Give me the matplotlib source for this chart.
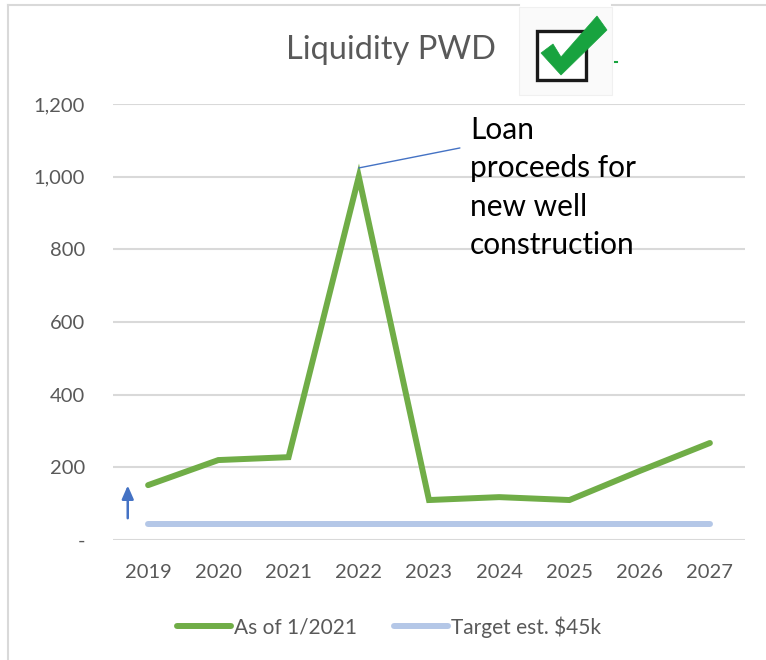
import matplotlib
matplotlib.use('Agg')
import matplotlib.pyplot as plt
from matplotlib.lines import Line2D
from matplotlib.patches import Polygon, Rectangle
from matplotlib.ticker import FuncFormatter
from matplotlib.transforms import Affine2D

# data
years = ["2019", "2020", "2021", "2022", "2023", "2024", "2025", "2026", "2027"]
liquidity = [151, 220, 228, 1000, 110, 118, 110, 190, 267]
target = [45, 45, 45, 45, 45, 45, 45, 45, 45]

GREEN = "#70AD47"
LIGHT_BLUE = "#B4C7E7"
BLUE = "#4472C4"
GRAY_TXT = "#595959"
GRID = "#D9D9D9"

plt.rcParams['font.family'] = ['Lato', 'DejaVu Sans']

W, H = 766, 660
fig = plt.figure(figsize=(W / 100, H / 100), dpi=100)
ax = fig.add_axes([113 / W, (H - 540) / H, 632 / W, 436 / H])

x = list(range(len(years)))
ax.plot(x, liquidity, color=GREEN, lw=4.3, solid_capstyle='round',
        solid_joinstyle='miter', label="As of 1/2021", zorder=3)
ax.plot(x, target, color=LIGHT_BLUE, lw=4.3, solid_capstyle='round',
        label="Target est. $45k", zorder=2)

ax.set_xlim(-0.5, len(years) - 0.5)
ax.set_ylim(0, 1200)
ax.set_yticks(range(0, 1201, 200))
ax.yaxis.set_major_formatter(FuncFormatter(lambda v, p: "-" if v == 0 else f"{int(v):,}"))
ax.set_xticks(x)
ax.set_xticklabels(years)
ax.grid(axis='y', color=GRID, lw=1.5)
ax.set_axisbelow(True)
for s in ax.spines.values():
    s.set_visible(False)
ax.tick_params(axis='both', length=0, labelsize=14.5, labelcolor=GRAY_TXT)
ax.tick_params(axis='y', pad=20)
ax.tick_params(axis='x', pad=17)

# callout leader line and small up arrow
ax.annotate("", xy=(3.0, 1024), xytext=(4.44, 1079),
            arrowprops=dict(arrowstyle='-', color=BLUE, lw=1.0, shrinkA=0, shrinkB=0))
ax.annotate("", xy=(-0.29, 150), xytext=(-0.29, 60), annotation_clip=False,
            arrowprops=dict(arrowstyle='-|>,head_width=0.35,head_length=0.8',
                            color=BLUE, lw=1.8, shrinkA=0, shrinkB=0))

fig.text(470 / W, 1 - 116 / H, "Loan\nproceeds for\nnew well\nconstruction",
         fontsize=21.5, color="black", va='top', ha='left', linespacing=1.45)

fig.text(391 / W, 1 - 50 / H, "Liquidity PWD", fontsize=23.5, color=GRAY_TXT,
         ha='center', va='center')

# checkmark picture, drawn in pixel coordinates (y down)
px = Affine2D().scale(1 / W, -1 / H).translate(0, 1) + fig.transFigure
fig.patches.append(Rectangle((519, 7), 93, 88, transform=px, facecolor="#FAFAFA",
                             edgecolor="#F0F0F0", lw=0.8))
fig.patches.append(Rectangle((537, 31), 49, 49, transform=px, facecolor="white",
                             edgecolor="#1A1A1A", lw=2.4))
check = [(541, 53), (553, 44), (561, 57), (597, 16), (607, 30), (561, 75)]
fig.patches.append(Polygon(check, closed=True, transform=px, facecolor="#18A33F",
                           edgecolor="#18A33F", lw=0.5))
fig.lines.append(Line2D([615, 617], [62, 62], transform=px, color="#18A33F", lw=1.5))

# chart frame
fig.lines.append(Line2D([8, 8], [5, H], transform=px, color=GRID, lw=1.5))
fig.lines.append(Line2D([8, 519], [5, 5], transform=px, color=GRID, lw=1.5))
fig.lines.append(Line2D([612, W], [5, 5], transform=px, color=GRID, lw=1.5))

handles, labels = ax.get_legend_handles_labels()
fig.legend(handles, labels, loc='center', bbox_to_anchor=(389 / W, 1 - 627 / H),
           ncol=2, frameon=False, fontsize=15, handlelength=2.6, handletextpad=0.15,
           columnspacing=1.75, labelcolor=GRAY_TXT)

fig.savefig("out.png", dpi=100, facecolor='white')
